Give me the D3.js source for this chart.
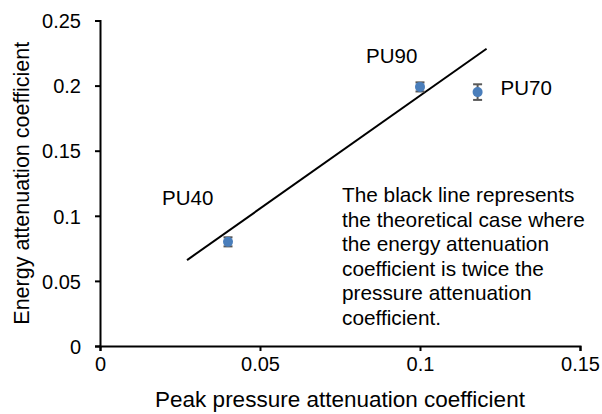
<!DOCTYPE html>
<html>
<head>
    <title>Energy vs pressure attenuation</title>
    <script src="https://d3js.org/d3.v7.min.js"></script>
    <style>
        body { margin: 0; background: white; }
        text { font-family: 'Liberation Sans', Arial, sans-serif; fill: #000; }
        .tick text { font-size: 20px; }
        .axis-title { font-size: 22.5px; }
        .y-title { font-size: 21.5px; }
        .note { font-size: 20.8px; }
        .label { font-size: 20.5px; }
    </style>
</head>
<body>
    <svg width="602" height="414"></svg>
    <script>
        // Data
        const sampleNames = ["PU40", "PU90", "PU70"];
        const pressureCoef = [0.04, 0.1, 0.118];
        const energyCoef = [0.08, 0.199, 0.195];
        const energyErr = [0.0035, 0.0035, 0.006];

        // theoretical line end points
        const lineX = [0.0272, 0.1208];
        const lineY = [0.066, 0.2283];

        const xTicks = [0, 0.05, 0.1, 0.15];
        const yTicks = [0, 0.05, 0.1, 0.15, 0.2, 0.25];

        const noteLines = [
            "The black line represents",
            "the theoretical case where",
            "the energy attenuation",
            "coefficient is twice the",
            "pressure attenuation",
            "coefficient."
        ];

        const svg = d3.select("svg");
        const margin = { left: 100, right: 22, top: 20.5, bottom: 68 };
        const width = 602, height = 414;

        const x = d3.scaleLinear().domain([0, 0.15]).range([margin.left, width - margin.right]);
        const y = d3.scaleLinear().domain([0, 0.25]).range([height - margin.bottom, margin.top]);

        // Axes
        const xAxis = svg.append("g")
            .attr("transform", `translate(0,${y(0)})`)
            .call(d3.axisBottom(x).tickValues(xTicks).tickFormat(d => d3.format("")(d)).tickSize(5).tickPadding(6));
        const yAxis = svg.append("g")
            .attr("transform", `translate(${x(0)},0)`)
            .call(d3.axisLeft(y).tickValues(yTicks).tickFormat(d => d3.format("")(d)).tickSize(5).tickPadding(14));

        [xAxis, yAxis].forEach(a => {
            a.select(".domain").attr("stroke", "#000").attr("stroke-width", 2);
            a.selectAll(".tick line").attr("stroke", "#000").attr("stroke-width", 2);
            a.selectAll(".tick text").attr("font-size", null);
        });
        yAxis.selectAll(".tick text").attr("dy", "0.36em");

        // Axis titles
        svg.append("text")
            .attr("class", "axis-title")
            .attr("x", (x(0) + x(0.15)) / 2)
            .attr("y", 407)
            .attr("text-anchor", "middle")
            .text("Peak pressure attenuation coefficient");

        svg.append("text")
            .attr("class", "y-title")
            .attr("transform", `translate(29,${(y(0) + y(0.25)) / 2}) rotate(-90)`)
            .attr("text-anchor", "middle")
            .text("Energy attenuation coefficient");

        // Theoretical line
        svg.append("line")
            .attr("x1", x(lineX[0])).attr("y1", y(lineY[0]))
            .attr("x2", x(lineX[1])).attr("y2", y(lineY[1]))
            .attr("stroke", "#000")
            .attr("stroke-width", 2);

        // Points with error bars
        const pts = sampleNames.map((n, i) => ({
            name: n, px: pressureCoef[i], ey: energyCoef[i], err: energyErr[i]
        }));

        const pg = svg.append("g").selectAll("g").data(pts).enter().append("g");

        pg.append("line")
            .attr("x1", d => x(d.px)).attr("x2", d => x(d.px))
            .attr("y1", d => y(d.ey - d.err)).attr("y2", d => y(d.ey + d.err))
            .attr("stroke", "#595959").attr("stroke-width", 2);
        pg.each(function(d) {
            const g = d3.select(this);
            [d.ey - d.err, d.ey + d.err].forEach(v => {
                g.append("line")
                    .attr("x1", x(d.px) - 4.5).attr("x2", x(d.px) + 4.5)
                    .attr("y1", y(v)).attr("y2", y(v))
                    .attr("stroke", "#595959").attr("stroke-width", 2);
            });
        });
        pg.append("circle")
            .attr("cx", d => x(d.px)).attr("cy", d => y(d.ey))
            .attr("r", 5)
            .attr("fill", "#4a7ebb");

        // Sample labels
        const labelPos = {
            PU40: { dx: -66, dy: -44 },
            PU90: { dx: -54, dy: -31 },
            PU70: { dx: 23, dy: -4 }
        };
        svg.append("g").selectAll("text").data(pts).enter().append("text")
            .attr("class", "label")
            .attr("x", d => x(d.px) + labelPos[d.name].dx)
            .attr("y", d => y(d.ey) + labelPos[d.name].dy)
            .attr("dy", "0.36em")
            .text(d => d.name);

        // Note
        svg.append("text")
            .attr("class", "note")
            .attr("x", 342)
            .attr("y", 202)
            .selectAll("tspan").data(noteLines).enter().append("tspan")
            .attr("x", 342)
            .attr("dy", (d, i) => i === 0 ? 0 : 24.6)
            .text(d => d);
    </script>
</body>
</html>
